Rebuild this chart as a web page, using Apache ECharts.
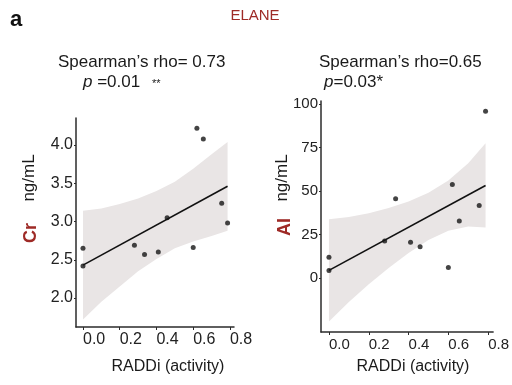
<!DOCTYPE html>
<html><head><meta charset="utf-8">
<script src="https://cdn.jsdelivr.net/npm/echarts@6/dist/echarts.min.js"></script>
<style>html,body{margin:0;padding:0;background:#fff}#c{width:512px;height:385px}</style>
</head><body><div id="c"></div>
<script>
// RADDi (activity) for each sample (shared by both panels)
const raddi = [0, 0, 0.28, 0.335, 0.41, 0.458, 0.60, 0.62, 0.655, 0.755, 0.787];
// Cr ng/mL
const crValues = [2.65, 2.42, 2.69, 2.57, 2.60, 3.05, 2.66, 4.22, 4.08, 3.24, 2.98];
// AI ng/mL
const aiValues = [11.9, 4.4, 21.3, 45.6, 20.5, 18.0, 6.1, 53.8, 32.8, 41.6, 95.8];

// fitted lines (endpoints)
const fitX = [0, 0.787];
const crFit = [2.43, 3.46];
const aiFit = [4.4, 53.2];

// confidence bands
const bandX = [0, 0.1, 0.2, 0.3, 0.4, 0.5, 0.6, 0.7, 0.787];
const crUpper = [3.14, 3.17, 3.23, 3.30, 3.40, 3.52, 3.69, 3.88, 4.04];
const crLower = [1.72, 1.95, 2.15, 2.35, 2.51, 2.65, 2.74, 2.81, 2.88];
const aiUpper = [33.8, 35.0, 37.2, 40.2, 44.0, 49.0, 56.0, 66.0, 77.4];
const aiLower = [-25.0, -13.8, -3.6, 5.8, 14.4, 21.8, 27.2, 29.6, 29.0];

const xTicks = [0, 0.2, 0.4, 0.6, 0.8];
const crTicks = [2.0, 2.5, 3.0, 3.5, 4.0];
const aiTicks = [0, 25, 50, 75, 100];

const FONT = 'Liberation Sans, Arial, sans-serif';
const RED = '#9e2a26';
const AX = '#2b2b2b';

const pairs = (xs, ys) => xs.map((x, i) => [x, ys[i]]);

function xAxisCfg(idx, min, max, fs) {
  return {
    type: 'value', gridIndex: idx, min: min, max: max,
    axisLine: {show: true, onZero: false, lineStyle: {color: AX, width: 1.5}},
    axisTick: {show: true, customValues: xTicks, length: 3, lineStyle: {color: AX}},
    axisLabel: {customValues: xTicks, align: 'left', margin: 5, fontSize: fs, color: '#222', fontFamily: FONT,
      formatter: v => v.toFixed(1)},
    splitLine: {show: false}
  };
}
function yAxisCfg(idx, min, max, ticks, fs, fmt) {
  return {
    type: 'value', gridIndex: idx, min: min, max: max,
    axisLine: {show: true, onZero: false, lineStyle: {color: AX, width: 1.5}},
    axisTick: {show: true, customValues: ticks, length: 2, lineStyle: {color: AX}},
    axisLabel: {customValues: ticks, margin: 3, fontSize: fs, color: '#222', fontFamily: FONT, formatter: fmt},
    splitLine: {show: false}
  };
}
function bandSeries(idx, lower, upper) {
  return {
    type: 'custom', xAxisIndex: idx, yAxisIndex: idx, silent: true, z: 1,
    data: bandX.map((x, i) => [x, lower[i], upper[i]]),
    encode: {x: 0, y: [1, 2]},
    renderItem: function (params, api) {
      if (params.dataIndex !== 0) return null;
      const top = bandX.map((x, i) => api.coord([x, upper[i]]));
      const bot = bandX.map((x, i) => api.coord([x, lower[i]])).reverse();
      return {type: 'polygon', shape: {points: top.concat(bot)},
              style: {fill: '#e9e5e5', stroke: null}};
    }
  };
}

const chart = echarts.init(document.getElementById('c'), null, {renderer: 'canvas'});
chart.setOption({
  animation: false,
  backgroundColor: '#fff',
  grid: [
    {left: 76, top: 118, width: 158, height: 209},
    {left: 321, top: 101, width: 173, height: 231}
  ],
  xAxis: [xAxisCfg(0, -0.038, 0.822, 16), xAxisCfg(1, -0.04, 0.825, 15)],
  yAxis: [
    yAxisCfg(0, 1.621, 4.353, crTicks, 16, v => v.toFixed(1)),
    yAxisCfg(1, -31, 101.7, aiTicks, 15, v => String(Math.round(v)))
  ],
  series: [
    bandSeries(0, crLower, crUpper),
    bandSeries(1, aiLower, aiUpper),
    {type: 'line', xAxisIndex: 0, yAxisIndex: 0, data: pairs(fitX, crFit), symbol: 'none',
     lineStyle: {color: '#111', width: 1.6}, z: 3},
    {type: 'line', xAxisIndex: 1, yAxisIndex: 1, data: pairs(fitX, aiFit), symbol: 'none',
     lineStyle: {color: '#111', width: 1.6}, z: 3},
    {type: 'scatter', xAxisIndex: 0, yAxisIndex: 0, data: pairs(raddi, crValues), symbolSize: 5,
     itemStyle: {color: '#151515'}, z: 4},
    {type: 'scatter', xAxisIndex: 1, yAxisIndex: 1, data: pairs(raddi, aiValues), symbolSize: 5,
     itemStyle: {color: '#151515'}, z: 4}
  ],
  graphic: [
    {type: 'text', x: 10, y: 9, style: {text: 'a', font: 'bold 22px ' + FONT, fill: '#111'}},
    {type: 'text', x: 255, y: 16, style: {text: 'ELANE', font: '15px ' + FONT, fill: RED, align: 'center', verticalAlign: 'middle'}},
    {type: 'text', x: 58, y: 62, style: {text: 'Spearman\u2019s rho= 0.73', font: '17px ' + FONT, fill: '#1a1a1a', verticalAlign: 'middle'}},
    {type: 'text', x: 83, y: 82, style: {text: '{i|p} =0.01', font: '17px ' + FONT, fill: '#1a1a1a', verticalAlign: 'middle',
      rich: {i: {font: 'italic 17px ' + FONT, fill: '#1a1a1a'}}}},
    {type: 'text', x: 152, y: 84, style: {text: '**', font: '11px ' + FONT, fill: '#1a1a1a', verticalAlign: 'middle'}},
    {type: 'text', x: 319, y: 62, style: {text: 'Spearman\u2019s rho=0.65', font: '17px ' + FONT, fill: '#1a1a1a', verticalAlign: 'middle'}},
    {type: 'text', x: 324, y: 82, style: {text: '{i|p}=0.03*', font: '17px ' + FONT, fill: '#1a1a1a', verticalAlign: 'middle',
      rich: {i: {font: 'italic 17px ' + FONT, fill: '#1a1a1a'}}}},
    {type: 'text', x: 31, y: 233, rotation: Math.PI / 2, style: {text: 'Cr', font: 'bold 18px ' + FONT, fill: RED, align: 'center', verticalAlign: 'middle'}},
    {type: 'text', x: 29, y: 178, rotation: Math.PI / 2, style: {text: 'ng/mL', font: '17px ' + FONT, fill: '#1a1a1a', align: 'center', verticalAlign: 'middle'}},
    {type: 'text', x: 285, y: 227, rotation: Math.PI / 2, style: {text: 'AI', font: 'bold 18px ' + FONT, fill: RED, align: 'center', verticalAlign: 'middle'}},
    {type: 'text', x: 282, y: 178, rotation: Math.PI / 2, style: {text: 'ng/mL', font: '17px ' + FONT, fill: '#1a1a1a', align: 'center', verticalAlign: 'middle'}},
    {type: 'text', x: 168, y: 367, style: {text: 'RADDi (activity)', font: '16px ' + FONT, fill: '#1a1a1a', align: 'center', verticalAlign: 'middle'}},
    {type: 'text', x: 413, y: 367, style: {text: 'RADDi (activity)', font: '16px ' + FONT, fill: '#1a1a1a', align: 'center', verticalAlign: 'middle'}}
  ]
});
</script></body></html>
